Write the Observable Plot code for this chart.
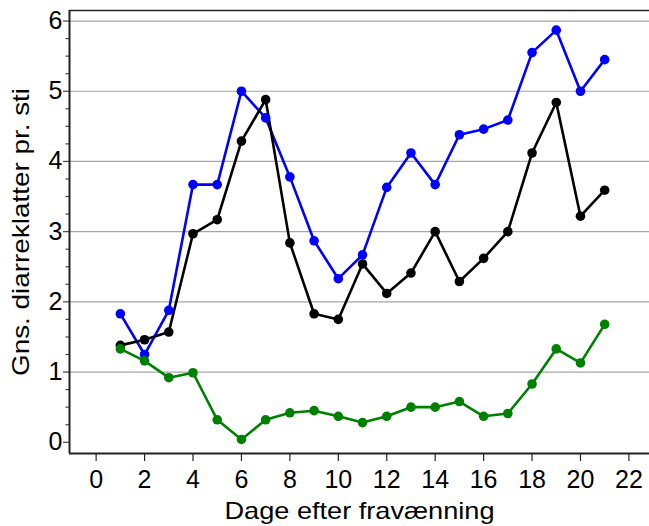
<!DOCTYPE html>
<html>
<head>
<meta charset="utf-8">
<script src="https://cdn.jsdelivr.net/npm/d3@7"></script>
<script src="https://cdn.jsdelivr.net/npm/@observablehq/plot@0.6"></script>
<style>
  html, body { margin: 0; padding: 0; background: #fff; }
  #chart svg { display: block; }
</style>
</head>
<body>
<div id="chart"></div>
<script>
const days = [1,2,3,4,5,6,7,8,9,10,11,12,13,14,15,16,17,18,19,20,21];
const blueValues  = [1.83,1.25,1.88,3.67,3.67,5.00,4.62,3.78,2.87,2.33,2.67,3.63,4.12,3.67,4.38,4.46,4.59,5.55,5.87,5.00,5.45];
const blackValues = [1.38,1.46,1.57,2.97,3.17,4.29,4.88,2.84,1.83,1.75,2.54,2.12,2.41,3.00,2.29,2.62,3.00,4.12,4.84,3.22,3.59];
const greenValues = [1.33,1.16,0.92,0.99,0.32,0.04,0.32,0.42,0.45,0.37,0.28,0.37,0.50,0.50,0.58,0.37,0.41,0.83,1.33,1.13,1.68];
const seriesNames = ["blue", "black", "green"];
const seriesColors = ["#0000ff", "#000000", "#006600"];
const xTicks = [0,2,4,6,8,10,12,14,16,18,20,22];
const yTicks = [0,1,2,3,4,5,6];
const yMinorTicks = d3.range(0, 6.01, 0.25).filter(v => !Number.isInteger(v));
const xLabel = "Dage efter fravænning";
const yLabel = "Gns. diarreklatter pr. sti";

const xDomain = [-1.1, 22.85];
const yDomain = [-0.16, 6.15];

const rows = [];
[blueValues, blackValues, greenValues].forEach((vals, s) => {
  vals.forEach((v, i) => rows.push({series: seriesNames[s], day: days[i], value: v}));
});

const colorOpt = {domain: seriesNames, range: seriesColors};

const chart = Plot.plot({
  width: 649,
  height: 526,
  marginLeft: 69,
  marginRight: 0,
  marginTop: 10,
  marginBottom: 73,
  style: {fontFamily: "'Liberation Sans', Arial, sans-serif", fontSize: "24px", color: "#000", background: "#fff"},
  x: {domain: xDomain, label: null},
  y: {domain: yDomain, label: null},
  color: colorOpt,
  marks: [
    Plot.ruleY(yTicks.filter(d => d > 0), {stroke: "#a6a6a6", strokeWidth: 1.2}),
    Plot.axisY(yMinorTicks, {tickSize: 3.5, text: null, stroke: "#444", strokeWidth: 1.2}),
    Plot.axisY(yTicks, {tickSize: 6, tickPadding: 1, tickFormat: d3.format("d"), stroke: "#444", strokeWidth: 1.2, fontSize: 25, fill: "#000", label: null}),
    Plot.axisX(xTicks, {tickSize: 8, tickPadding: 9, tickFormat: d3.format("d"), stroke: "#222", strokeWidth: 1.2, fontSize: 25, fill: "#000", label: null}),
    Plot.ruleX([xDomain[0]], {stroke: "#222", strokeWidth: 2}),
    Plot.ruleY([yDomain[0]], {stroke: "#222", strokeWidth: 2}),
    Plot.ruleY([yDomain[1]], {stroke: "#222", strokeWidth: 1.6}),
    Plot.line(rows, {x: "day", y: "value", stroke: "series", z: "series", strokeWidth: 2.6}),
    Plot.dot(rows, {x: "day", y: "value", fill: "series", r: 4.8}),
    Plot.text([xLabel], {frameAnchor: "bottom", lineAnchor: "middle", dy: 58, fontSize: 24, fill: "#000"}),
    Plot.text([yLabel], {frameAnchor: "left", textAnchor: "middle", lineAnchor: "middle", dx: -48, rotate: -90, fontSize: 24, fill: "#000"})
  ]
});
const svg = d3.select(chart);
svg.selectAll("text").filter(function() { return this.textContent === xLabel; })
  .attr("textLength", 270).attr("lengthAdjust", "spacingAndGlyphs");
svg.selectAll("text").filter(function() { return this.textContent === yLabel; })
  .attr("textLength", 288).attr("lengthAdjust", "spacingAndGlyphs");
document.getElementById("chart").appendChild(chart);
</script>
</body>
</html>
